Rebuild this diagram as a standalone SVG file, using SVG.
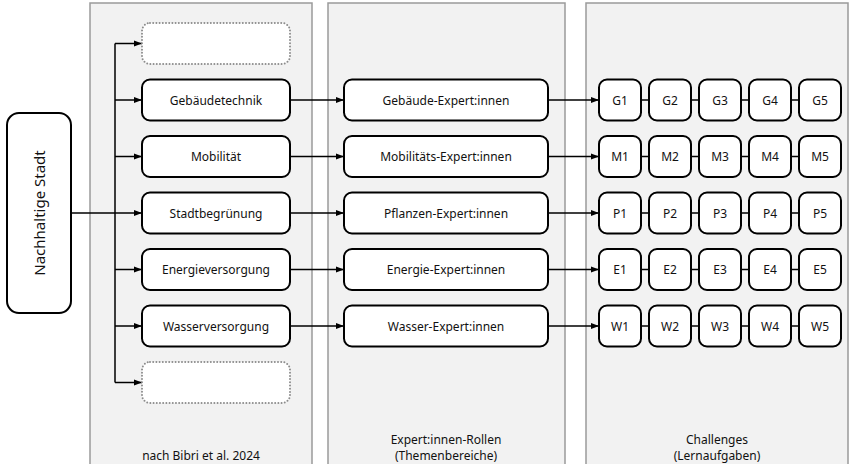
<svg xmlns="http://www.w3.org/2000/svg" width="853" height="464" viewBox="0 0 853 464">
  <defs>
    <marker id="arr" viewBox="0 0 8 8" refX="8" refY="4" markerWidth="8" markerHeight="8" markerUnits="userSpaceOnUse" orient="auto">
      <path d="M0,1 L8,4 L0,7 Z" fill="#000"/>
    </marker>
  </defs>
  <style>
    .panel { fill: #f2f2f2; stroke: #9a9a9a; stroke-width: 1.5; }
    .box { fill: #fff; stroke: #000; stroke-width: 2; }
    .ghost { fill: #fff; stroke: #8c8c8c; stroke-width: 2; stroke-dasharray: 0 3.2; stroke-linecap: round; }
    .lbl { font-family: "Noto Sans", "Open Sans", sans-serif; font-size: 12px; fill: #111; text-anchor: middle; dominant-baseline: central; }
    .cap { font-family: "Noto Sans", "Open Sans", sans-serif; font-size: 12px; fill: #111; text-anchor: middle; }
    .wire { fill: none; stroke: #000; stroke-width: 1.5; }
    .arrow { fill: none; stroke: #000; stroke-width: 1.5; marker-end: url(#arr); }
  </style>

  <!-- background columns -->
  <g id="panels">
    <rect class="panel" x="90" y="3" width="222" height="470"/>
    <rect class="panel" x="328" y="3" width="237" height="470"/>
    <rect class="panel" x="586" y="3" width="262" height="470"/>
    <text class="cap" x="201" y="460">nach Bibri et al. 2024</text>
    <text class="cap" x="446" y="444">Expert:innen-Rollen</text>
    <text class="cap" x="446" y="460">(Themenbereiche)</text>
    <text class="cap" x="717" y="444">Challenges</text>
    <text class="cap" x="717" y="460">(Lernaufgaben)</text>
  </g>

  <!-- connectors -->
  <g id="connectors">
    <polyline class="wire" points="71,213 115,213"/>
    <line class="wire" x1="115" y1="43.5" x2="115" y2="382.5"/>
    <line class="arrow" x1="115" y1="43.5" x2="142" y2="43.5"/>
    <line class="arrow" x1="115" y1="100" x2="142" y2="100"/>
    <line class="arrow" x1="115" y1="156.5" x2="142" y2="156.5"/>
    <line class="arrow" x1="115" y1="213" x2="142" y2="213"/>
    <line class="arrow" x1="115" y1="269.5" x2="142" y2="269.5"/>
    <line class="arrow" x1="115" y1="326" x2="142" y2="326"/>
    <line class="arrow" x1="115" y1="382.5" x2="142" y2="382.5"/>

    <line class="arrow" x1="290" y1="100" x2="344" y2="100"/>
    <line class="arrow" x1="290" y1="156.5" x2="344" y2="156.5"/>
    <line class="arrow" x1="290" y1="213" x2="344" y2="213"/>
    <line class="arrow" x1="290" y1="269.5" x2="344" y2="269.5"/>
    <line class="arrow" x1="290" y1="326" x2="344" y2="326"/>

    <line class="arrow" x1="548" y1="100" x2="599" y2="100"/>
    <line class="arrow" x1="548" y1="156.5" x2="599" y2="156.5"/>
    <line class="arrow" x1="548" y1="213" x2="599" y2="213"/>
    <line class="arrow" x1="548" y1="269.5" x2="599" y2="269.5"/>
    <line class="arrow" x1="548" y1="326" x2="599" y2="326"/>

    <!-- links between consecutive challenges -->
    <path class="wire" d="M641,100H649M691,100H699M741,100H749M791,100H799
                          M641,156.5H649M691,156.5H699M741,156.5H749M791,156.5H799
                          M641,213H649M691,213H699M741,213H749M791,213H799
                          M641,269.5H649M691,269.5H699M741,269.5H749M791,269.5H799
                          M641,326H649M691,326H699M741,326H749M791,326H799"/>
  </g>

  <!-- root -->
  <g id="stadt">
    <rect class="box" x="7" y="113" width="64" height="200" rx="12"/>
    <text class="lbl" style="font-size:15px" transform="translate(39,213) rotate(-90)">Nachhaltige Stadt</text>
  </g>

  <!-- topic areas -->
  <g id="leer-oben"><rect class="ghost" x="142" y="23" width="148" height="41" rx="8"/></g>
  <g id="gebaeudetechnik"><rect class="box" x="142" y="79.5" width="148" height="41" rx="8"/><text class="lbl" x="216" y="100">Gebäudetechnik</text></g>
  <g id="mobilitaet"><rect class="box" x="142" y="136" width="148" height="41" rx="8"/><text class="lbl" x="216" y="156.5">Mobilität</text></g>
  <g id="stadtbegruenung"><rect class="box" x="142" y="192.5" width="148" height="41" rx="8"/><text class="lbl" x="216" y="213">Stadtbegrünung</text></g>
  <g id="energieversorgung"><rect class="box" x="142" y="249" width="148" height="41" rx="8"/><text class="lbl" x="216" y="269.5">Energieversorgung</text></g>
  <g id="wasserversorgung"><rect class="box" x="142" y="305.5" width="148" height="41" rx="8"/><text class="lbl" x="216" y="326">Wasserversorgung</text></g>
  <g id="leer-unten"><rect class="ghost" x="142" y="362" width="148" height="41" rx="8"/></g>

  <!-- expert roles -->
  <g id="rolle-g"><rect class="box" x="344" y="79.5" width="204" height="41" rx="8"/><text class="lbl" x="446" y="100">Gebäude-Expert:innen</text></g>
  <g id="rolle-m"><rect class="box" x="344" y="136" width="204" height="41" rx="8"/><text class="lbl" x="446" y="156.5">Mobilitäts-Expert:innen</text></g>
  <g id="rolle-p"><rect class="box" x="344" y="192.5" width="204" height="41" rx="8"/><text class="lbl" x="446" y="213">Pflanzen-Expert:innen</text></g>
  <g id="rolle-e"><rect class="box" x="344" y="249" width="204" height="41" rx="8"/><text class="lbl" x="446" y="269.5">Energie-Expert:innen</text></g>
  <g id="rolle-w"><rect class="box" x="344" y="305.5" width="204" height="41" rx="8"/><text class="lbl" x="446" y="326">Wasser-Expert:innen</text></g>

  <!-- challenges -->
  <g id="g1"><rect class="box" x="599" y="79.5" width="42" height="41" rx="8"/><text class="lbl" x="620" y="100">G1</text></g>
  <g id="g2"><rect class="box" x="649" y="79.5" width="42" height="41" rx="8"/><text class="lbl" x="670" y="100">G2</text></g>
  <g id="g3"><rect class="box" x="699" y="79.5" width="42" height="41" rx="8"/><text class="lbl" x="720" y="100">G3</text></g>
  <g id="g4"><rect class="box" x="749" y="79.5" width="42" height="41" rx="8"/><text class="lbl" x="770" y="100">G4</text></g>
  <g id="g5"><rect class="box" x="799" y="79.5" width="42" height="41" rx="8"/><text class="lbl" x="820" y="100">G5</text></g>

  <g id="m1"><rect class="box" x="599" y="136" width="42" height="41" rx="8"/><text class="lbl" x="620" y="156.5">M1</text></g>
  <g id="m2"><rect class="box" x="649" y="136" width="42" height="41" rx="8"/><text class="lbl" x="670" y="156.5">M2</text></g>
  <g id="m3"><rect class="box" x="699" y="136" width="42" height="41" rx="8"/><text class="lbl" x="720" y="156.5">M3</text></g>
  <g id="m4"><rect class="box" x="749" y="136" width="42" height="41" rx="8"/><text class="lbl" x="770" y="156.5">M4</text></g>
  <g id="m5"><rect class="box" x="799" y="136" width="42" height="41" rx="8"/><text class="lbl" x="820" y="156.5">M5</text></g>

  <g id="p1"><rect class="box" x="599" y="192.5" width="42" height="41" rx="8"/><text class="lbl" x="620" y="213">P1</text></g>
  <g id="p2"><rect class="box" x="649" y="192.5" width="42" height="41" rx="8"/><text class="lbl" x="670" y="213">P2</text></g>
  <g id="p3"><rect class="box" x="699" y="192.5" width="42" height="41" rx="8"/><text class="lbl" x="720" y="213">P3</text></g>
  <g id="p4"><rect class="box" x="749" y="192.5" width="42" height="41" rx="8"/><text class="lbl" x="770" y="213">P4</text></g>
  <g id="p5"><rect class="box" x="799" y="192.5" width="42" height="41" rx="8"/><text class="lbl" x="820" y="213">P5</text></g>

  <g id="e1"><rect class="box" x="599" y="249" width="42" height="41" rx="8"/><text class="lbl" x="620" y="269.5">E1</text></g>
  <g id="e2"><rect class="box" x="649" y="249" width="42" height="41" rx="8"/><text class="lbl" x="670" y="269.5">E2</text></g>
  <g id="e3"><rect class="box" x="699" y="249" width="42" height="41" rx="8"/><text class="lbl" x="720" y="269.5">E3</text></g>
  <g id="e4"><rect class="box" x="749" y="249" width="42" height="41" rx="8"/><text class="lbl" x="770" y="269.5">E4</text></g>
  <g id="e5"><rect class="box" x="799" y="249" width="42" height="41" rx="8"/><text class="lbl" x="820" y="269.5">E5</text></g>

  <g id="w1"><rect class="box" x="599" y="305.5" width="42" height="41" rx="8"/><text class="lbl" x="620" y="326">W1</text></g>
  <g id="w2"><rect class="box" x="649" y="305.5" width="42" height="41" rx="8"/><text class="lbl" x="670" y="326">W2</text></g>
  <g id="w3"><rect class="box" x="699" y="305.5" width="42" height="41" rx="8"/><text class="lbl" x="720" y="326">W3</text></g>
  <g id="w4"><rect class="box" x="749" y="305.5" width="42" height="41" rx="8"/><text class="lbl" x="770" y="326">W4</text></g>
  <g id="w5"><rect class="box" x="799" y="305.5" width="42" height="41" rx="8"/><text class="lbl" x="820" y="326">W5</text></g>
</svg>
